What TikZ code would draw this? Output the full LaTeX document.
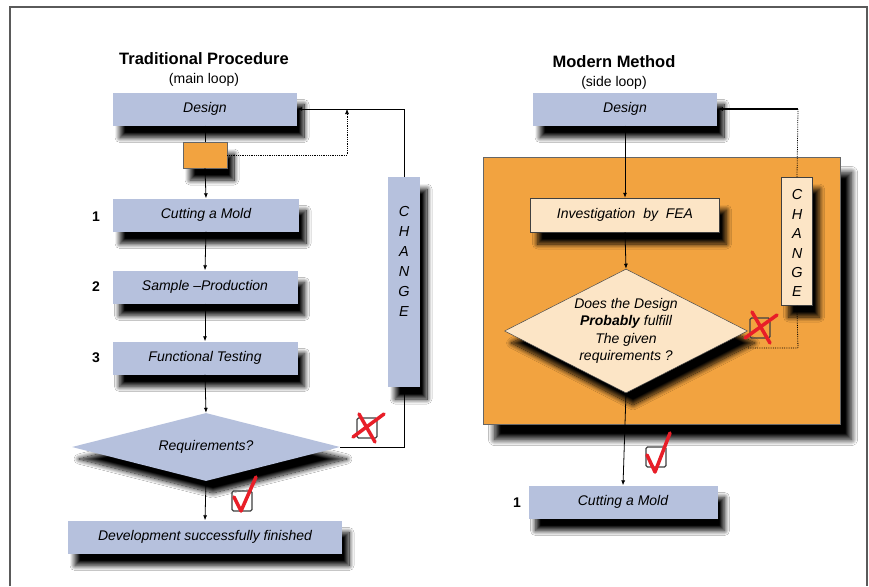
\documentclass[tikz,border=0pt]{standalone}
\usepackage{fontspec}
\setmainfont{Liberation Sans}
\usetikzlibrary{shapes.geometric,shadows.blur,arrows.meta}
\definecolor{boxblue}{RGB}{182,193,221}
\definecolor{orng}{RGB}{242,163,64}
\definecolor{beige}{RGB}{252,229,198}
\definecolor{chkred}{RGB}{232,30,40}
\definecolor{framegray}{RGB}{90,90,90}
\begin{document}
\begin{tikzpicture}[x=1pt,y=-1pt,
  shd/.style={blur shadow={shadow xshift=7pt,shadow yshift=-12pt,shadow blur radius=5pt,shadow blur steps=14,shadow opacity=100}},
  bbox/.style={fill=boxblue,inner sep=0pt,minimum height=33pt,font=\itshape\fontsize{14}{16}\selectfont,shd},
  ebox/.style={fill=beige,draw=black!75,line width=0.5pt,inner sep=0pt,font=\itshape\fontsize{14}{16}\selectfont,shd},
  chgtxt/.style={font=\itshape\fontsize{14.5}{16}\selectfont,inner sep=0pt},
  num/.style={font=\bfseries\fontsize{14}{16}\selectfont,inner sep=0pt},
  ttl/.style={font=\bfseries\fontsize{16.5}{19}\selectfont,inner sep=0pt},
  sub/.style={font=\fontsize{14}{16}\selectfont,inner sep=0pt},
  arr/.style={-{Latex[length=5pt,width=4pt]},line width=0.8pt},
  dotline/.style={densely dotted,line width=0.8pt},
  tick/.style={draw=black!75,line width=1.2pt,rounded corners=1.5pt,minimum size=20pt,inner sep=0pt},
  redmark/.style={draw=chkred,line width=3.5pt,line cap=round,line join=round}]
\useasboundingbox (0,0) rectangle (869,586);
\fill[white] (0,0) rectangle (869,586);
\draw[framegray,line width=2pt] (10,586) -- (10,7) -- (867,7) -- (867,586);

% ---------------- Left: traditional ----------------
\node[ttl] (t1) at (204,59) {Traditional Procedure};
\node[sub] (s1) at (204,80) {(main loop)};

\node[bbox,minimum width=184pt] (d1) at (205,109) {Design};
\node[fill=orng,draw=black!60,line width=0.4pt,minimum width=44pt,minimum height=26pt,inner sep=0pt,shd] (ob) at (205,155) {};
\node[bbox,minimum width=186pt] (c1) at (206,215) {Cutting a Mold};
\node[bbox,minimum width=185pt] (sp) at (205,287) {Sample –Production};
\node[bbox,minimum width=185pt] (ft) at (205,358) {Functional Testing};
\node[diamond,fill=boxblue,inner sep=0pt,minimum width=268pt,minimum height=68pt,aspect=4,font=\itshape\fontsize{14}{16}\selectfont,shd] (rq) at (206,447) {Requirements?};
\node[bbox,minimum width=274pt] (df) at (205,537) {Development successfully finished};

\node[num] (n1) at (96,217) {1};
\node[num] (n2) at (96,287) {2};
\node[num] (n3) at (96,358) {3};

\node[fill=boxblue,inner sep=0pt,minimum width=32pt,minimum height=210pt,shd] (ch1) at (404,282) {};
\foreach \l [count=\i from 0] in {C,H,A,N,G,E}
  \node[chgtxt] at (404,212+20*\i) {\l};

\draw[line width=0.8pt] (d1.south) -- (ob.north);
\draw[arr] (ob.south) -- (c1.north);
\draw[arr] (c1.south) -- (sp.north);
\draw[arr] (sp.south) -- (ft.north);
\draw[arr] (ft.south) -- (rq.north);
\draw[arr] (rq.south) -- (df.north);
\draw[arr] (rq.east) -| (ch1.south);
\draw[arr] (ch1.north) |- (d1.east);
\coordinate (dl) at (347,109);
\draw[dotline] (ob.east) -| ([yshift=-5pt]dl);
\draw[-{Latex[length=5pt,width=4pt]},line width=0.6pt] ([yshift=-6pt]dl) -- (dl);

\node[tick] (x1) at (367,428) {};
\draw[redmark] (353,437) -- (384,414);
\draw[redmark] (359,414) -- (375,442);
\node[tick] (k1) at (242,501) {};
\draw[redmark] (234,497) -- (241,511) -- (256,477);

% ---------------- Right: modern ----------------
\node[ttl] (t2) at (614,62) {Modern Method};
\node[sub] (s2) at (614,83) {(side loop)};

\node[bbox,minimum width=184pt] (d2) at (625,109) {Design};
\node[fill=orng,draw=black!60,line width=0.5pt,minimum width=357pt,minimum height=267pt,inner sep=0pt,
  blur shadow={shadow xshift=11pt,shadow yshift=-15pt,shadow blur radius=6pt,shadow blur steps=14,shadow opacity=100}] (pn) at (662,291) {};

\node[ebox,minimum width=189pt,minimum height=34pt] (fea) at (625,215) {Investigation\ \ by\ \ FEA};
\node[diamond,fill=beige,draw=black!70,line width=0.5pt,inner sep=0pt,minimum width=243pt,minimum height=124pt,aspect=2,
  font=\itshape\fontsize{14}{17.3}\selectfont,align=center,shd] (pr) at (626,331)
  {Does the Design\\{\bfseries Probably} fulfill\\The given\\requirements ?};
\node[ebox,minimum width=31pt,minimum height=128pt] (ch2) at (797,241) {};
\foreach \l [count=\i from 0] in {C,H,A,N,G,E}
  \node[chgtxt] at (797,195+19.4*\i) {\l};

\node[bbox,minimum width=189pt] (c2) at (623,502) {Cutting a Mold};
\node[num] (n4) at (517,503) {1};

\draw[arr] (d2.south) -- (fea.north);
\draw[arr] (fea.south) -- (pr.north);
\draw[arr] (pr.south) -- (c2.north);
\coordinate (rs) at (748,348);
\coordinate (rb) at (798,348);
\draw[dotline] (rs) -- (rb) -- ([yshift=-6pt]ch2.south);
\draw[-{Latex[length=5pt,width=4pt]},line width=0.6pt] ([yshift=-7pt]ch2.south) -- (ch2.south);
\coordinate (rt) at (798,109);
\draw[dotline] (ch2.north) -- (rt);
\draw[-{Latex[open,length=6pt,width=4.5pt]},line width=1.6pt] (rt) -- (d2.east);

\node[tick] (x2) at (760,328) {};
\draw[redmark] (745,338) -- (777,315);
\draw[redmark] (752,312) -- (770,343);
\node[tick] (k2) at (656,457) {};
\draw[redmark] (647,455) -- (655,472) -- (670,433);
\end{tikzpicture}
\end{document}
